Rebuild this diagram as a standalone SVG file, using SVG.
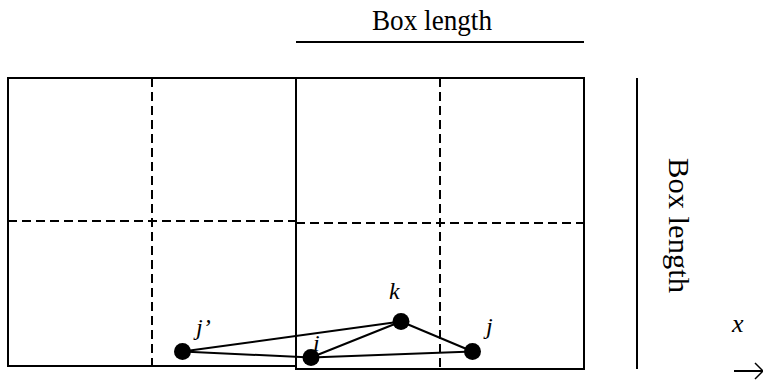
<svg xmlns="http://www.w3.org/2000/svg" width="763" height="381" viewBox="0 0 763 381">
<style>
.box{fill:none;stroke:#000;stroke-width:2}
.dash{fill:none;stroke:#000;stroke-width:2;stroke-dasharray:9,5}
.edge{stroke:#000;stroke-width:2}
.node{fill:#000}
.lbl{font-family:'Liberation Serif','Times New Roman',Times,serif;font-style:italic;font-size:24px;fill:#000}
.title{font-family:'Liberation Serif','Times New Roman',Times,serif;font-size:29px;fill:#000}
</style>
<rect width="763" height="381" fill="#fff"/>
<g id="cells">
<rect class="box" x="8" y="78" width="288" height="288"/>
<rect class="box" x="296" y="78" width="288" height="291"/>
<line class="dash" x1="152" y1="78" x2="152" y2="366"/>
<line class="dash" x1="440" y1="78" x2="440" y2="369"/>
<line class="dash" x1="8" y1="221" x2="296" y2="221"/>
<line class="dash" x1="296" y1="223" x2="584" y2="223"/>
</g>
<g id="dimensions">
<line class="edge" x1="296" y1="42" x2="584" y2="42"/>
<text class="title" x="432" y="30" text-anchor="middle" textLength="120" lengthAdjust="spacingAndGlyphs">Box length</text>
<line class="edge" x1="637" y1="78" x2="637" y2="369"/>
<text class="title" transform="translate(669,225.5) rotate(90)" text-anchor="middle" textLength="135" lengthAdjust="spacingAndGlyphs">Box length</text>
</g>
<g id="connectors">
<line class="edge" x1="182.5" y1="351.5" x2="401" y2="321.5"/>
<line class="edge" x1="182.5" y1="351.5" x2="311" y2="357.5"/>
<line class="edge" x1="311" y1="357.5" x2="401" y2="321.5"/>
<line class="edge" x1="401" y1="321.5" x2="472.5" y2="351.5"/>
<line class="edge" x1="311" y1="357.5" x2="472.5" y2="351.5"/>
</g>
<g id="node-jp"><circle class="node" cx="182.5" cy="351.5" r="8.5"/><text class="lbl" x="196" y="335">j’</text></g>
<g id="node-i"><circle class="node" cx="311" cy="357.5" r="8.5"/><text class="lbl" x="313" y="351">i</text></g>
<g id="node-k"><circle class="node" cx="401" cy="321.5" r="8.5"/><text class="lbl" x="389" y="299">k</text></g>
<g id="node-j"><circle class="node" cx="472.5" cy="351.5" r="8.5"/><text class="lbl" x="486" y="334">j</text></g>
<g id="axis">
<text class="lbl" x="732" y="332" style="font-size:26px">x</text>
<line class="edge" x1="734" y1="371" x2="763" y2="371"/>
<path d="M755,363 L763,371 L755,379" fill="none" stroke="#000" stroke-width="1.5"/>
</g>
</svg>
